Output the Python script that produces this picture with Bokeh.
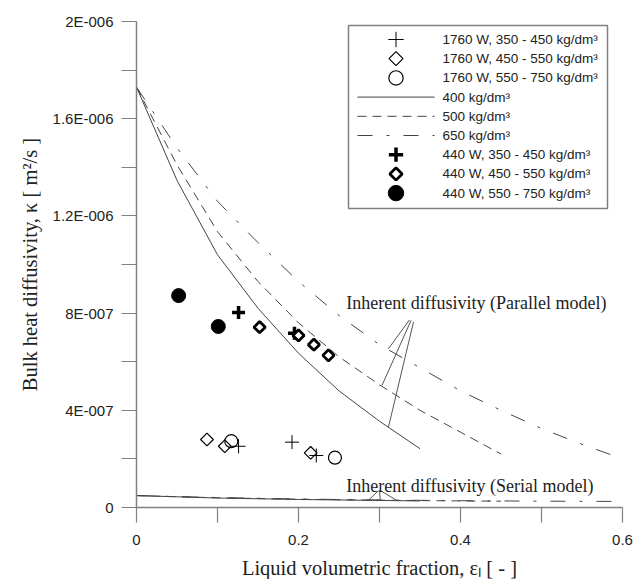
import numpy as np
from bokeh.plotting import figure
from bokeh.models import Range1d, FixedTicker
from bokeh.core.properties import value
from bokeh.embed import file_html
from bokeh.resources import INLINE

# ---------------- data ----------------
# model curves, parallel model
x_400 = [0.0, 0.05, 0.10, 0.15, 0.20, 0.25, 0.30, 0.35]
k_400 = [1.73e-6, 1.346e-6, 1.04e-6, 8.2e-7, 6.35e-7, 4.8e-7, 3.55e-7, 2.42e-7]
x_500 = [0.0, 0.05, 0.10, 0.15, 0.20, 0.25, 0.30, 0.35, 0.40, 0.45]
k_500 = [1.73e-6, 1.41e-6, 1.135e-6, 9.3e-7, 7.6e-7, 6.2e-7, 5.05e-7, 4.0e-7, 3.1e-7, 2.2e-7]
x_650 = [0.0, 0.05, 0.10, 0.15, 0.20, 0.25, 0.30, 0.35, 0.40, 0.45, 0.50, 0.55, 0.60]
k_650 = [1.73e-6, 1.48e-6, 1.26e-6, 1.09e-6, 9.3e-7, 7.9e-7, 6.7e-7, 5.75e-7, 4.8e-7, 4.0e-7, 3.25e-7, 2.6e-7, 2.0e-7]

# model curves, serial model
xs_400 = [0.0, 0.1, 0.2, 0.3, 0.35]
ks_400 = [4.9e-8, 3.9e-8, 3.3e-8, 2.9e-8, 2.7e-8]
xs_500 = [0.0, 0.1, 0.2, 0.3, 0.4, 0.45]
ks_500 = [4.9e-8, 4.0e-8, 3.4e-8, 3.0e-8, 2.7e-8, 2.6e-8]
xs_650 = [0.0, 0.1, 0.2, 0.3, 0.4, 0.5, 0.6]
ks_650 = [4.9e-8, 4.1e-8, 3.5e-8, 3.1e-8, 2.8e-8, 2.6e-8, 2.5e-8]

# measurements
x_1760_350 = [0.126, 0.192, 0.222]
k_1760_350 = [2.52e-7, 2.69e-7, 2.14e-7]
x_1760_450 = [0.087, 0.109, 0.215]
k_1760_450 = [2.80e-7, 2.52e-7, 2.25e-7]
x_1760_550 = [0.117, 0.245]
k_1760_550 = [2.73e-7, 2.05e-7]
x_440_350 = [0.126, 0.195]
k_440_350 = [8.02e-7, 7.17e-7]
x_440_450 = [0.152, 0.200, 0.219, 0.237]
k_440_450 = [7.42e-7, 7.08e-7, 6.70e-7, 6.26e-7]
x_440_550 = [0.052, 0.101]
k_440_550 = [8.72e-7, 7.45e-7]

legend_labels = [
    "1760 W, 350 - 450 kg/dm³",
    "1760 W, 450 - 550 kg/dm³",
    "1760 W, 550 - 750 kg/dm³",
    "400 kg/dm³",
    "500 kg/dm³",
    "650 kg/dm³",
    "440 W, 350 - 450 kg/dm³",
    "440 W, 450 - 550 kg/dm³",
    "440 W, 550 - 750 kg/dm³",
]

x_ticks = [0.0, 0.2, 0.4, 0.6]
x_minor = [0.1, 0.3, 0.5]
x_tick_labels = ["0", "0.2", "0.4", "0.6"]
y_ticks = [0.0, 4e-7, 8e-7, 1.2e-6, 1.6e-6, 2e-6]
y_minor = [2e-7, 6e-7, 1e-6, 1.4e-6, 1.8e-6]
y_tick_labels = ["0", "4E-007", "8E-007", "1.2E-006", "1.6E-006", "2E-006"]

# annotations (data coordinates)
par_text = "Inherent diffusivity (Parallel model)"
par_text_pos = (0.259, 8.40e-7)
par_from_x = [0.337, 0.339, 0.342]
par_from_y = [7.72e-7, 7.70e-7, 7.64e-7]
par_to_x = [0.311, 0.303, 0.311]
par_to_y = [6.53e-7, 5.02e-7, 3.30e-7]
ser_text = "Inherent diffusivity (Serial model)"
ser_text_pos = (0.259, 9.0e-8)
ser_from_x = [0.299, 0.300, 0.301]
ser_from_y = [7.0e-8, 7.0e-8, 7.0e-8]
ser_to_x = [0.287, 0.301, 0.320]
ser_to_y = [3.2e-8, 2.9e-8, 3.2e-8]

# ---------------- styles ----------------
LINE_COL = "#444444"
AXIS_COL = "#808080"
line_styles = {
    "400": dict(line_color=LINE_COL, line_width=1),
    "500": dict(line_color=LINE_COL, line_width=1, line_dash="9 6"),
    "650": dict(line_color=LINE_COL, line_width=1, line_dash="15 14 3 14"),
}
marker_styles = {
    "1760_350": dict(marker="cross", size=14, line_color="black", line_width=1),
    "1760_450": dict(marker="square", angle=np.pi / 4, size=9, line_color="black",
                     line_width=1.2, fill_color=None),
    "1760_550": dict(marker="circle", size=13, line_color="black", line_width=1.2, fill_color=None),
    "440_350": dict(marker="cross", size=13, line_color="black", line_width=3.5),
    "440_450": dict(marker="square", angle=np.pi / 4, size=8, line_color="black",
                    line_width=2.8, fill_color="white"),
    "440_550": dict(marker="circle", size=14, line_color="black", fill_color="black"),
}
legend_kinds = [("m", "1760_350"), ("m", "1760_450"), ("m", "1760_550"),
                ("l", "400"), ("l", "500"), ("l", "650"),
                ("m", "440_350"), ("m", "440_450"), ("m", "440_550")]

# ---------------- figure ----------------
FW, FH = 486, 486
p = figure(frame_width=FW, frame_height=FH,
           min_border_left=136, min_border_right=13,
           min_border_top=21, min_border_bottom=72,
           x_range=Range1d(0, 0.6), y_range=Range1d(0, 2e-6),
           output_backend="svg", toolbar_location=None, tools="")
# pixel-based ranges over the frame (used only for the legend panel)
p.extra_x_ranges = {"px": Range1d(0, FW)}
p.extra_y_ranges = {"px": Range1d(0, FH)}
p.outline_line_color = None
p.xgrid.visible = False
p.ygrid.visible = False

for ax in (p.xaxis[0], p.yaxis[0]):
    ax.axis_line_color = AXIS_COL
    ax.axis_line_width = 1.5
    ax.major_tick_line_color = AXIS_COL
    ax.minor_tick_line_color = AXIS_COL
    ax.major_tick_line_width = 1.2
    ax.minor_tick_line_width = 1.2
    ax.major_tick_out = 15
    ax.major_tick_in = 0
    ax.minor_tick_out = 15
    ax.minor_tick_in = 0
    ax.major_label_text_font = "Liberation Sans"
    ax.major_label_text_font_size = "15px"
    ax.major_label_text_color = "#222222"
    ax.axis_label_text_font = "Liberation Serif"
    ax.axis_label_text_font_size = "20.5px"
    ax.axis_label_text_font_style = "normal"
    ax.axis_label_text_color = "#222222"

p.xaxis.ticker = FixedTicker(ticks=x_ticks, minor_ticks=x_minor)
p.xaxis.major_label_overrides = dict(zip(x_ticks, x_tick_labels))
p.xaxis.major_label_standoff = 12
p.xaxis.axis_label = "Liquid volumetric fraction, εₗ [ - ]"
p.xaxis.axis_label_standoff = 9

p.yaxis.ticker = FixedTicker(ticks=y_ticks, minor_ticks=y_minor)
p.yaxis.major_label_overrides = dict(zip(y_ticks, y_tick_labels))
p.yaxis.major_label_standoff = 8
p.yaxis.axis_label = "Bulk heat diffusivity, κ [ m²/s ]"
p.yaxis.axis_label_standoff = 9

# model curves
p.line(x_400, k_400, **line_styles["400"])
p.line(x_500, k_500, **line_styles["500"])
p.line(x_650, k_650, **line_styles["650"])
p.line(xs_400, ks_400, **line_styles["400"])
p.line(xs_500, ks_500, **line_styles["500"])
p.line(xs_650, ks_650, **line_styles["650"])

# measurements
p.scatter(x_1760_350, k_1760_350, **marker_styles["1760_350"])
p.scatter(x_1760_450, k_1760_450, **marker_styles["1760_450"])
p.scatter(x_1760_550, k_1760_550, **marker_styles["1760_550"])
p.scatter(x_440_350, k_440_350, **marker_styles["440_350"])
p.scatter(x_440_450, k_440_450, **marker_styles["440_450"])
p.scatter(x_440_550, k_440_550, **marker_styles["440_550"])

# annotations
p.segment(par_from_x, par_from_y, par_to_x, par_to_y, line_color="#555555", line_width=1)
p.segment(ser_from_x, ser_from_y, ser_to_x, ser_to_y, line_color="#555555", line_width=1)
p.text([par_text_pos[0]], [par_text_pos[1]], text=[par_text], text_font=value("Liberation Serif"),
       text_font_size="18px", text_baseline="middle", text_align="left", text_color="#222222")
p.text([ser_text_pos[0]], [ser_text_pos[1]], text=[ser_text], text_font=value("Liberation Serif"),
       text_font_size="18px", text_baseline="middle", text_align="left", text_color="#222222")

# ---------------- legend panel (frame-pixel units) ----------------
LEG_LEFT, LEG_RIGHT, LEG_TOP, LEG_BOTTOM = 212, 471, 482, 299
ROW0, PITCH = 468.0, 19.2
GLYPH_X0, GLYPH_X1, LABEL_X = 221, 298, 306
rows = ROW0 - PITCH * np.arange(len(legend_labels))
kw = dict(x_range_name="px", y_range_name="px")
p.quad(left=[LEG_LEFT], right=[LEG_RIGHT], bottom=[LEG_BOTTOM], top=[LEG_TOP],
       fill_color="white", line_color=AXIS_COL, line_width=1.5, **kw)
for (kind, key), yy in zip(legend_kinds, rows):
    if kind == "l":
        p.line([GLYPH_X0, GLYPH_X1], [yy, yy], **line_styles[key], **kw)
    else:
        st = dict(marker_styles[key])
        st["size"] = st["size"] * 1.1
        p.scatter([(GLYPH_X0 + GLYPH_X1) / 2], [yy], **st, **kw)
p.text([LABEL_X] * len(legend_labels), list(rows), text=legend_labels,
       text_font=value("Liberation Sans"), text_font_size="13.5px",
       text_baseline="middle", text_align="left", text_color="#222222", **kw)

open("out.html", "w").write(file_html(p, INLINE))
